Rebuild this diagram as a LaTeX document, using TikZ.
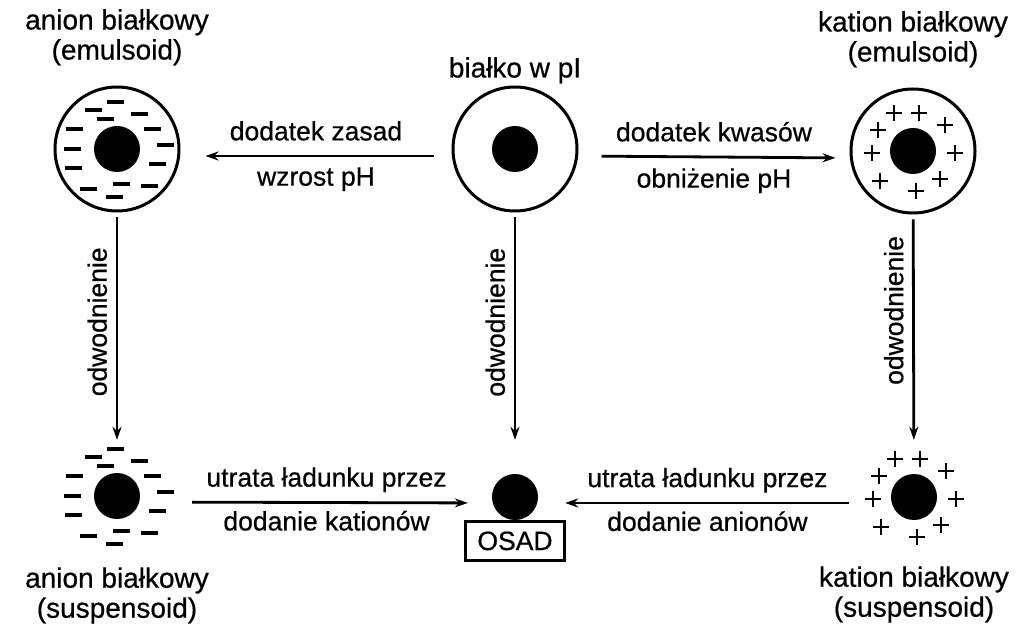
\documentclass[tikz,border=0pt]{standalone}
\usepackage{fontspec}
\setmainfont{Liberation Sans}[FakeBold=0.6]
\usetikzlibrary{positioning, arrows.meta}
\tikzset{
	titletext/.style={font=\fontsize{28}{30}\selectfont, align=center, inner sep=0pt}
}
\tikzset{
	steptext/.style={font=\fontsize{26.5}{30}\selectfont, inner sep=0pt},
	flow/.style={line width=2.8pt, -{Stealth[length=13pt, width=9pt]}}
}

\begin{document}
\begin{tikzpicture}[x=1pt, y=-1pt]

  \tikzset{
    shell/.style={
        shape=circle,
        draw=black,
        line width=3pt,
        minimum size=124pt,
        inner sep=0pt
      },
    core/.style={
        shape=circle,
        fill=black,
        minimum size=46pt,
        inner sep=0pt
      },
    minus/.style={line width=3.4pt},
    plus/.style={line width=2.8pt}
  }

  \useasboundingbox (0,0) rectangle (1023,628);

  % particles with water shell
  \node[shell] (s1) at (117,149) {};
  \node[shell] (s2) at (515,149) {};
  \node[shell] (s3) at (913,151) {};
  \node[core] (c1) at (s1) {};
  \node[core] (c2) at (s2) {};
  \node[core] (c3) at (s3) {};

  % bare particles
  \node[core] (c4) at (117,496) {};
  \node[core] (c5) at (515,497) {};
  \node[core] (c6) at (914,497) {};
  \node[draw, line width=2.4pt, steptext, minimum width=99pt, minimum height=39pt,
        below=0pt of c5] (osad) {OSAD};

  % negative charges
  \foreach \dx/\dy in {-2/-47, -24/-39, -12/-30, 22/-35, -43/-20, 35/-20, -45/0,
                       48/-4, -44/19, 40/15, -29/40, 4/35, 32/37, -3/48}{
    \draw[minus] ([shift={(\dx,\dy)}]c1.center) +(-8.5,0) -- +(8.5,0);
    \draw[minus] ([shift={(\dx,\dy)}]c4.center) +(-8.5,0) -- +(8.5,0);
  }

  % positive charges
  \foreach \dx/\dy in {-19/-38, 6/-38, -35/-21, 32/-26, -41/2, 42/2,
                       -33/30, 27/28, 3/40}{
    \draw[plus] ([shift={(\dx,\dy)}]c3.center) +(-8,0) -- +(8,0) +(0,-8) -- +(0,8);
    \draw[plus] ([shift={(\dx,\dy)}]c6.center) +(-8,0) -- +(8,0) +(0,-8) -- +(0,8);
  }

  \node[titletext, above=20pt of s1] (t1) {anion białkowy\\(emulsoid)};
  \node[titletext, above=2pt of s2] (t2) {białko w pI};
  \node[titletext, above=20pt of s3] (t3) {kation białkowy\\(emulsoid)};
  \node[titletext, below=48pt of c4] (t4) {anion białkowy\\(suspensoid)};
  \node[titletext, below=46pt of c6] (t6) {kation białkowy\\(suspensoid)};

  \draw[flow, shorten <=18pt, shorten >=25pt] ([yshift=-7pt]s2.west) -- ([yshift=-7pt]s1.east)
    node[steptext, midway, above=14pt] {dodatek zasad}
    node[steptext, midway, below=10pt] {wzrost pH};
  \draw[flow, shorten <=23pt, shorten >=14pt] ([yshift=-7pt]s2.east) -- ([yshift=-7pt]s3.west)
    node[steptext, midway, above=14pt] {dodatek kwasów}
    node[steptext, midway, below=10pt] {obniżenie pH};

  \draw[flow, shorten <=5pt, shorten >=33pt] (s1) -- (c4)
    node[steptext, pos=0.42, rotate=90, anchor=south, outer sep=10pt] {odwodnienie};
  \draw[flow, shorten <=5pt, shorten >=34pt] (s2) -- (c5)
    node[steptext, pos=0.42, rotate=90, anchor=south, outer sep=10pt] {odwodnienie};
  \draw[flow, shorten <=5pt, shorten >=34pt] (s3) -- (c6)
    node[steptext, pos=0.37, rotate=90, anchor=south, outer sep=10pt] {odwodnienie};

  \draw[flow, shorten <=52pt, shorten >=24pt] ([yshift=-6pt]c4.east) -- ([yshift=-6pt]c5.west)
    node[steptext, pos=0.53, above=9pt] {utrata ładunku przez}
    node[steptext, pos=0.53, below=7pt] {dodanie kationów};
  \draw[flow, shorten <=42pt, shorten >=27pt] ([yshift=-6pt]c6.west) -- ([yshift=-6pt]c5.east)
    node[steptext, pos=0.52, above=9pt] {utrata ładunku przez}
    node[steptext, pos=0.52, below=7pt] {dodanie anionów};

\end{tikzpicture}
\end{document}
